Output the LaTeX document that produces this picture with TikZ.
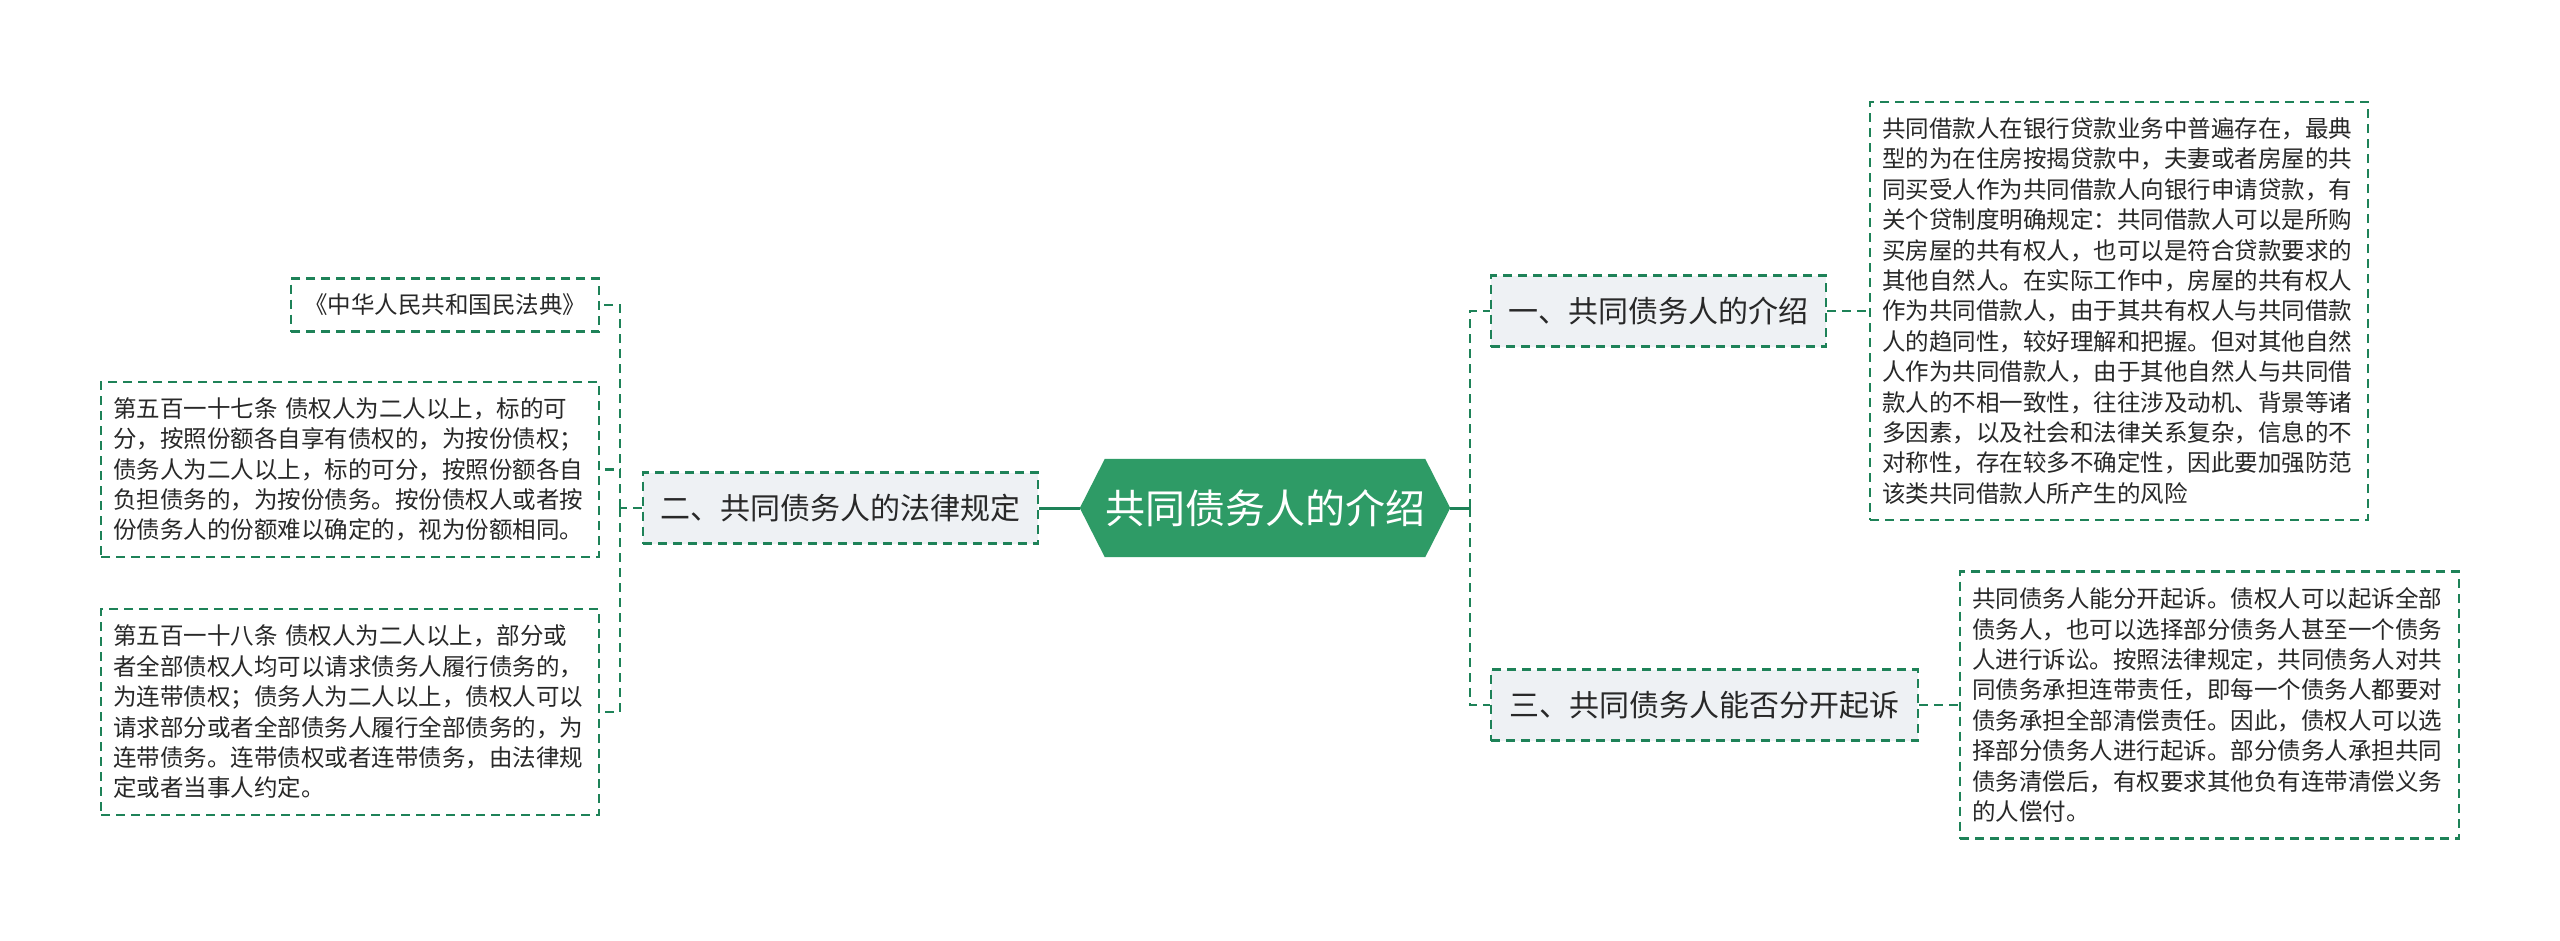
\documentclass[tikz,border=0pt]{standalone}
\usepackage{fontspec}
\newfontfamily\cjk{Noto Sans CJK SC}
\usetikzlibrary{backgrounds}
\definecolor{lineg}{RGB}{30,130,88}
\definecolor{hexg}{RGB}{46,155,102}
\definecolor{topicbg}{RGB}{238,241,244}
\definecolor{txt}{RGB}{40,40,40}
\begin{document}
\begin{tikzpicture}[x=1pt,y=-1pt,
  box/.style={draw=lineg, line width=2.1pt, dash pattern=on 9pt off 6pt, fill=white,
    font=\cjk\fontsize{23.5}{30.4}\selectfont, text=txt, align=left, inner xsep=12pt, inner ysep=0pt},
  topic/.style={draw=lineg, line width=2.1pt, dash pattern=on 9pt off 6pt, fill=topicbg,
    font=\cjk\fontsize{30}{36}\selectfont, text=txt, inner sep=0pt, minimum height=71pt},
  centre/.style={font=\cjk\fontsize{40}{48}\selectfont, text=white, inner sep=0pt,
    minimum width=370pt, minimum height=98pt},
  link/.style={draw=lineg, line width=2.1pt, dash pattern=on 9pt off 6pt},
  trunk/.style={draw=lineg, line width=3pt}]
\useasboundingbox (0,0) rectangle (2560,940);

% central topic
\node[centre] (c) at (1265,508) {共同债务人的介绍};

% main topics
\node[topic, minimum width=395pt] (n2) at (840.5,508) {二、共同债务人的法律规定};
\node[topic, minimum width=335pt] (n1) at (1658.5,311) {一、共同债务人的介绍};
\node[topic, minimum width=427pt] (n3) at (1704.5,705) {三、共同债务人能否分开起诉};

% detail boxes, right
\node[box, text width=474pt, minimum height=418pt] (b1) at (2119,311) {%
共同借款人在银行贷款业务中普遍存在，最典\\
型的为在住房按揭贷款中，夫妻或者房屋的共\\
同买受人作为共同借款人向银行申请贷款，有\\
关个贷制度明确规定：共同借款人可以是所购\\
买房屋的共有权人，也可以是符合贷款要求的\\
其他自然人。在实际工作中，房屋的共有权人\\
作为共同借款人，由于其共有权人与共同借款\\
人的趋同性，较好理解和把握。但对其他自然\\
人作为共同借款人，由于其他自然人与共同借\\
款人的不相一致性，往往涉及动机、背景等诸\\
多因素，以及社会和法律关系复杂，信息的不\\
对称性，存在较多不确定性，因此要加强防范\\
该类共同借款人所产生的风险};

\node[box, text width=475pt, minimum height=267pt] (b2) at (2209.5,705) {%
共同债务人能分开起诉。债权人可以起诉全部\\
债务人，也可以选择部分债务人甚至一个债务\\
人进行诉讼。按照法律规定，共同债务人对共\\
同债务承担连带责任，即每一个债务人都要对\\
债务承担全部清偿责任。因此，债权人可以选\\
择部分债务人进行起诉。部分债务人承担共同\\
债务清偿后，有权要求其他负有连带清偿义务\\
的人偿付。};

% detail boxes, left
\node[box, align=center, text width=284pt, minimum height=53pt] (law) at (445,305) {《中华人民共和国民法典》};

\node[box, text width=474pt, minimum height=175pt] (a517) at (350,469.5) {%
第五百一十七条 债权人为二人以上，标的可\\
分，按照份额各自享有债权的，为按份债权；\\
债务人为二人以上，标的可分，按照份额各自\\
负担债务的，为按份债务。按份债权人或者按\\
份债务人的份额难以确定的，视为份额相同。};

\node[box, text width=474pt, minimum height=206pt] (a518) at (350,712) {%
第五百一十八条 债权人为二人以上，部分或\\
者全部债权人均可以请求债务人履行债务的，\\
为连带债权；债务人为二人以上，债权人可以\\
请求部分或者全部债务人履行全部债务的，为\\
连带债务。连带债权或者连带债务，由法律规\\
定或者当事人约定。};

% connectors
\coordinate (cL) at (620,508);
\coordinate (cR) at (1470,508);
\draw[trunk] (c.west) -- (n2.east);
\draw[trunk] (c.east) -- (cR);
\draw[link] (cR) |- (n1.west);
\draw[link] (cR) |- (n3.west);
\draw[link] (n1.east) -- (b1.west);
\draw[link] (n3.east) -- (b2.west);
\draw[link] (n2.west) -- (cL);
\draw[link] (cL) |- (law.east);
\draw[link] (cL) |- (a517.east);
\draw[link] (cL) |- (a518.east);

\begin{scope}[on background layer]
\fill[white] (0,0) rectangle (2560,940);
\fill[hexg] (c.west) -- ([xshift=25pt]c.north west) -- ([xshift=-25pt]c.north east)
  -- (c.east) -- ([xshift=-25pt]c.south east) -- ([xshift=25pt]c.south west) -- cycle;
\end{scope}
\end{tikzpicture}
\end{document}
